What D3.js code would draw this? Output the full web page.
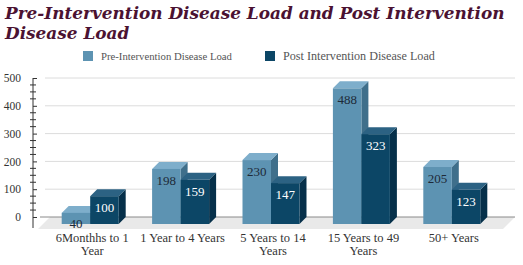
<!DOCTYPE html>
<html>
<head>
<meta charset="utf-8">
<script src="https://cdn.jsdelivr.net/npm/d3@7"></script>
<style>
	body { margin: 0; background: #fff; }
</style>
</head>
<body>
<div id="vis"></div>
<script>
// chart values
var categories = [["6Monthhs to 1", "Year"], ["1 Year to 4 Years"], ["5 Years to 14", "Years"], ["15 Years to 49", "Years"], ["50+ Years"]];
var seriesNames = ["Pre-Intervention Disease Load", "Post Intervention Disease Load"];
var preLoad = [40, 198, 230, 488, 205];
var postLoad = [100, 159, 147, 323, 123];
var yTicks = [0, 100, 200, 300, 400, 500];

var width = 523, height = 265;
var depth = 7; // 3d offset of the bars
var serif = '"Liberation Serif", serif';
var titleFont = '"DejaVu Serif", serif';

var svg = d3.select('#vis').append('svg')
	.attr('width', width)
	.attr('height', height);

// fit a text to a width by changing its font size
function fitWidth(sel, w) {
	var fs = parseFloat(sel.style('font-size'));
	var len = sel.node().getComputedTextLength();
	sel.style('font-size', (fs * w / len) + 'px');
}

// title
var title1 = svg.append('text')
	.attr('x', 5)
	.attr('y', 19)
	.style('font-family', titleFont)
	.style('font-size', '17px')
	.style('font-weight', 'bold')
	.style('font-style', 'italic')
	.style('fill', '#4b1232')
	.text('Pre-Intervention Disease Load and Post Intervention');
fitWidth(title1, 500);
svg.append('text')
	.attr('x', 5)
	.attr('y', 39)
	.style('font-family', titleFont)
	.style('font-size', title1.style('font-size'))
	.style('font-weight', 'bold')
	.style('font-style', 'italic')
	.style('fill', '#4b1232')
	.text('Disease Load');

// legend
var colors = {
	front: ['#5d93b2', '#0c4666'],
	top: ['#7eaecb', '#2c6283'],
	side: ['#3f6f8b', '#06304a']
};
var legendX = [83, 265];
var legendW = [131, 152];
seriesNames.forEach(function(name, i) {
	svg.append('rect')
		.attr('x', legendX[i]).attr('y', 51)
		.attr('width', 10).attr('height', 10)
		.style('fill', colors.front[i]);
	var t = svg.append('text')
		.attr('x', legendX[i] + 18).attr('y', 60)
		.style('font-family', serif)
		.style('font-size', '11px')
		.style('fill', '#555')
		.text(name);
	fitWidth(t, legendW[i]);
});

// scales
var y = d3.scaleLinear().domain([0, 500]).range([217, 78]);
var x0 = d3.scaleBand().domain(d3.range(categories.length)).range([45, 497]);
var x1 = d3.scaleBand().domain([0, 1]).range([0, x0.bandwidth()]).paddingOuter(0.586);

// floor
var floorPts = [[50, y(0)], [515, y(0)], [503, y(0) + 12], [38, y(0) + 12]];
svg.append('polygon')
	.attr('points', floorPts.map(function(p) { return p.join(','); }).join(' '))
	.style('fill', '#e9e9e9');

// grid lines
svg.selectAll('.grid').data(yTicks.slice(1)).enter()
	.append('line')
	.attr('class', 'grid')
	.attr('x1', 45).attr('x2', 515)
	.attr('y1', function(d) { return y(d); })
	.attr('y2', function(d) { return y(d); })
	.style('stroke', '#dcdcdc');
svg.append('line')
	.attr('x1', 40).attr('x2', 515)
	.attr('y1', y(0)).attr('y2', y(0))
	.style('stroke', '#8a8a8a');

// y axis
var axis = svg.append('g').attr('transform', 'translate(33,0)')
	.call(d3.axisLeft(y).tickValues(yTicks).tickSize(4).tickFormat(d3.format('d')));
axis.select('.domain').remove();
axis.selectAll('.tick line').attr('x2', 4).style('stroke', '#333');
axis.selectAll('.tick text')
	.attr('x', -12)
	.style('font-family', serif)
	.style('font-size', '11.5px')
	.style('fill', '#333');
svg.append('line')
	.attr('x1', 33).attr('x2', 33)
	.attr('y1', y(500)).attr('y2', y(0) + 11)
	.style('stroke', '#333');
svg.selectAll('.minor').data(d3.range(25, 500, 25).filter(function(d) { return d % 100; })).enter()
	.append('line')
	.attr('class', 'minor')
	.attr('x1', 30).attr('x2', 36)
	.attr('y1', function(d) { return y(d); })
	.attr('y2', function(d) { return y(d); })
	.style('stroke', '#333');

// bars
var bars = [];
preLoad.forEach(function(v, i) { bars.push({ cat: i, s: 0, v: v }); });
postLoad.forEach(function(v, i) { bars.push({ cat: i, s: 1, v: v }); });
bars.sort(function(a, b) { return a.cat - b.cat || a.s - b.s; });

var bw = x1.bandwidth();
bars.forEach(function(d) {
	var xl = x0(d.cat) + x1(d.s);
	var top = y(d.v) + depth, bottom = y(0) + depth;
	var g = svg.append('g');
	// side face
	g.append('polygon')
		.attr('points', [[xl + bw, top], [xl + bw + depth, top - depth], [xl + bw + depth, bottom - depth], [xl + bw, bottom]].join(' '))
		.style('fill', colors.side[d.s]);
	// top face
	g.append('polygon')
		.attr('points', [[xl, top], [xl + depth, top - depth], [xl + bw + depth, top - depth], [xl + bw, top]].join(' '))
		.style('fill', colors.top[d.s]);
	// front face
	g.append('rect')
		.attr('x', xl).attr('y', top)
		.attr('width', bw).attr('height', bottom - top)
		.style('fill', colors.front[d.s]);
	g.append('text')
		.attr('x', xl + bw / 2)
		.attr('y', Math.min(top + 16, bottom + 4))
		.attr('text-anchor', 'middle')
		.style('font-family', serif)
		.style('font-size', '13px')
		.style('fill', d.s ? '#fff' : '#1d2a38')
		.text(d.v);
});

// category labels
categories.forEach(function(lines, i) {
	var t = svg.append('text')
		.attr('text-anchor', 'middle')
		.attr('y', 242)
		.style('font-family', serif)
		.style('font-size', '12.5px')
		.style('fill', '#333');
	lines.forEach(function(l, j) {
		t.append('tspan')
			.attr('x', x0(i) + x0.bandwidth() / 2 + 2)
			.attr('dy', j ? 12.5 : 0)
			.text(l);
	});
});
</script>
</body>
</html>
